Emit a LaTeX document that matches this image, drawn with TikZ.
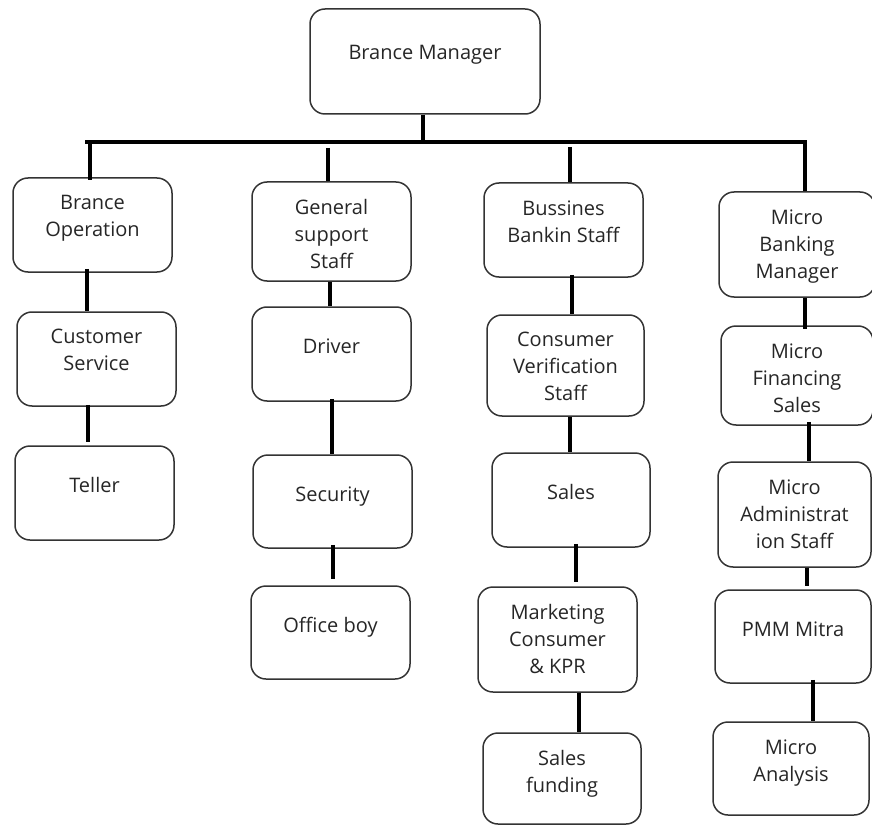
\documentclass[tikz,border=0pt]{standalone}
\usepackage{fontspec}
\setmainfont{Open Sans}
\usepackage{tikz}

\begin{document}
\begin{tikzpicture}[x=1pt,y=-1pt,
  box/.style 2 args={draw=black!80,line width=1.5pt,rounded corners=15pt,
    minimum width=#1,minimum height=#2,inner sep=0pt},
  lbl/.style={anchor=north,align=center,inner sep=0pt,
    font=\fontsize{20}{27}\selectfont,text=black!85},
  hi/.style={label={[lbl,yshift=-18pt]north:#1}},
  lo/.style={label={[lbl,yshift=-32pt]north:#1}},
  link/.style={line width=3.4pt,line cap=butt}]
\useasboundingbox (0,0) rectangle (872,826);

% top
\node[box={230pt}{105pt},label={[lbl,yshift=-37pt]north:Brance Manager}] (mgr) at (425,61.5) {};

% first column
\node[box={159pt}{94pt},hi={Brance\\Operation}] (ops) at (92.5,225) {};
\node[box={159pt}{94pt},hi={Customer\\Service}] (cs) at (96.5,359) {};
\node[box={159pt}{94pt},lo={Teller}] (teller) at (94.5,493) {};

% second column
\node[box={159pt}{99pt},hi={General\\support\\Staff}] (gen) at (331.5,231.5) {};
\node[box={159pt}{94pt},lo={Driver}] (driver) at (331.5,354) {};
\node[box={159pt}{93pt},lo={Security}] (security) at (332.5,501.5) {};
\node[box={159pt}{93pt},lo={Office boy}] (office) at (330.5,632.5) {};

% third column
\node[box={159pt}{94pt},hi={Bussines\\Bankin Staff}] (bbs) at (563.5,230) {};
\node[box={157pt}{101pt},hi={Consumer\\Verification\\Staff}] (cvs) at (565.5,365.5) {};
\node[box={158pt}{94pt},lo={Sales}] (sales) at (571,500) {};
\node[box={159pt}{105pt},hi={Marketing\\Consumer\\\& KPR}] (mkt) at (557.5,639.5) {};
\node[box={158pt}{91pt},hi={Sales\\funding}] (sf) at (562,778.5) {};

% fourth column
\node[box={156pt}{105pt},hi={Micro\\Banking\\Manager}] (mbm) at (797,244.5) {};
\node[box={152pt}{99pt},hi={Micro\\Financing\\Sales}] (mfs) at (797,375.5) {};
\node[box={153pt}{105pt},hi={Micro\\Administrat\\ion Staff}] (adm) at (794.5,514.5) {};
\node[box={156pt}{93pt},lo={PMM Mitra}] (pmm) at (793,636.5) {};
\node[box={156pt}{93pt},hi={Micro\\Analysis}] (ma) at (791,768.5) {};

% lines from the manager
\coordinate (barL) at (87,142);
\coordinate (barR) at (805,142);
\draw[link] ([xshift=-2pt]mgr.south) -- ([xshift=-2pt]mgr.south |- barL);
\draw[link,line cap=rect] (barL) -- (barR);
\draw[link] (barL -| ops.north) ++(-2.5,0) -- ([xshift=-2.5pt,yshift=-3pt]ops.north);
\draw[link] ([xshift=-3.5pt]gen.north |- 0,148) -- ([xshift=-3.5pt]gen.north);
\draw[link] ([xshift=6.5pt]bbs.north |- 0,147) -- ([xshift=6.5pt]bbs.north);
\draw[link] (barR) -- (barR |- mbm.north);

% lines inside the columns
\draw[link] ([xshift=-5.5pt,yshift=4pt]ops.south) -- ([xshift=-5.5pt]ops.south |- cs.north);
\draw[link] ([xshift=-8.5pt,yshift=2pt]cs.south) -- ([xshift=-8.5pt,yshift=3pt]cs.south |- teller.north);
\draw[link] ([xshift=-1.5pt]gen.south) -- ([xshift=-1.5pt]gen.south |- driver.north);
\draw[link] ([xshift=0.5pt,yshift=3pt]driver.south) -- ([xshift=0.5pt]driver.south |- security.north);
\draw[link] ([xshift=0.5pt,yshift=4pt]security.south) -- ([xshift=0.5pt,yshift=6pt]security.south |- office.north);
\draw[link] ([xshift=8.5pt,yshift=3pt]bbs.south) -- ([xshift=8.5pt]bbs.south |- cvs.north);
\draw[link] ([xshift=4.5pt]cvs.south) -- ([xshift=4.5pt]cvs.south |- sales.north);
\draw[link] ([xshift=5pt,yshift=4pt]sales.south) -- ([xshift=5pt,yshift=4pt]sales.south |- mkt.north);
\draw[link] ([xshift=21.5pt]mkt.south) -- ([xshift=21.5pt]mkt.south |- sf.north);
\draw[link] ([xshift=8pt]mbm.south) -- ([xshift=8pt,yshift=-4pt]mbm.south |- mfs.north);
\draw[link] ([xshift=12pt,yshift=4pt]mfs.south) -- ([xshift=12pt]mfs.south |- adm.north);
\draw[link] ([xshift=12.5pt]adm.south) -- ([xshift=12.5pt,yshift=3pt]adm.south |- pmm.north);
\draw[link] ([xshift=20pt,yshift=4pt]pmm.south) -- ([xshift=20pt]pmm.south |- ma.north);
\end{tikzpicture}
\end{document}
